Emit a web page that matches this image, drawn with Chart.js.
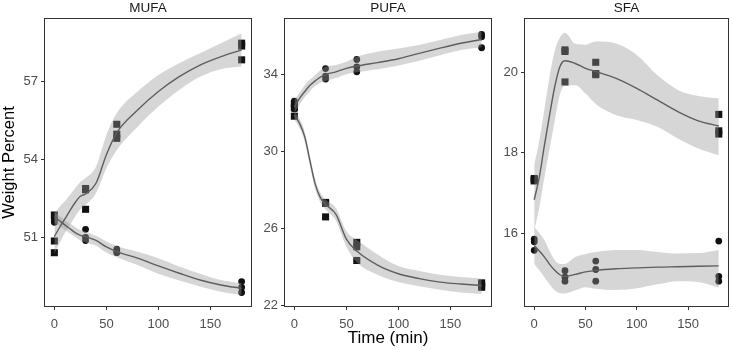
<!DOCTYPE html>
<html>
<head>
<meta charset="utf-8">
<script src="https://cdn.jsdelivr.net/npm/chart.js@4.4.0/dist/chart.umd.min.js"></script>
<style>
  html, body { margin: 0; padding: 0; background: #fff; }
  #wrap { position: relative; width: 733px; height: 350px; overflow: hidden; }
  #wrap canvas { position: absolute; top: 0; }
</style>
</head>
<body>
<div id="wrap">
  <canvas id="mufa" width="256" height="350" style="left:0px"></canvas>
  <canvas id="pufa" width="256" height="350" style="left:240px"></canvas>
  <canvas id="sfa" width="253" height="350" style="left:480px"></canvas>
</div>
<script>
// sampling times of the replicates, and x positions of the smoother
const sampleTimes = [0, 0, 0, 30, 30, 30, 60, 60, 60, 180, 180, 180];
const fitTimes = [0, 5, 10, 15, 20, 25, 30, 40, 50, 60, 80, 100, 120, 140, 160, 180];
const xTicks = [0, 50, 100, 150];

// MUFA
const mufaSquares = [51.88, 50.88, 50.43, 52.9, 52.85, 52.1, 55.37, 54.99, 54.83, 58.49, 58.38, 57.85];
const mufaCircles = [51.75, 51.68, 51.6, 51.33, 51.02, 50.9, 50.57, 50.48, 50.43, 49.32, 49.1, 48.9];
const mufaSquareFit = [51.05, 51.4, 51.72, 52.05, 52.36, 52.6, 52.69, 53.1, 54.2, 55.05, 55.92, 56.63, 57.2, 57.65, 57.97, 58.23];
const mufaSquareUpper = [51.95, 52.2, 52.4, 52.65, 52.91, 53.15, 53.3, 53.74, 54.96, 55.8, 56.63, 57.27, 57.72, 58.1, 58.49, 58.87];
const mufaSquareLower = [50.37, 50.8, 51.18, 51.5, 51.82, 52.1, 52.27, 52.72, 53.68, 54.38, 55.28, 56.05, 56.69, 57.2, 57.49, 57.59];
const mufaCircleFit = [51.82, 51.66, 51.5, 51.35, 51.2, 51.1, 51.05, 50.9, 50.65, 50.47, 50.22, 49.92, 49.64, 49.38, 49.19, 49.06];
const mufaCircleUpper = [52.01, 51.85, 51.69, 51.55, 51.41, 51.3, 51.24, 51.08, 50.86, 50.69, 50.47, 50.22, 49.9, 49.62, 49.38, 49.26];
const mufaCircleLower = [51.57, 51.45, 51.31, 51.17, 51.03, 50.9, 50.82, 50.7, 50.44, 50.26, 49.96, 49.62, 49.36, 49.13, 48.93, 48.81];
const mufaTicks = [51, 54, 57];

// PUFA
const pufaCircles = [32.6, 32.35, 32.2, 34.29, 33.9, 33.75, 34.76, 34.38, 34.12, 36.06, 35.94, 35.37];
const pufaSquares = [32.45, 32.25, 31.82, 27.35, 27.3, 26.6, 25.28, 25.05, 24.34, 23.18, 23.05, 22.95];
const pufaCircleFit = [32.3, 32.75, 33.1, 33.42, 33.65, 33.85, 33.98, 34.12, 34.3, 34.42, 34.6, 34.8, 35.08, 35.35, 35.6, 35.8];
const pufaCircleUpper = [32.65, 33.05, 33.43, 33.72, 33.95, 34.2, 34.38, 34.47, 34.64, 34.9, 35.16, 35.33, 35.51, 35.77, 36.03, 36.2];
const pufaCircleLower = [32.0, 32.42, 32.8, 33.12, 33.38, 33.55, 33.65, 33.8, 34.0, 34.1, 34.25, 34.45, 34.7, 34.98, 35.25, 35.4];
const pufaSquareFit = [31.87, 31.45, 30.75, 29.5, 28.3, 27.6, 27.25, 26.73, 25.45, 24.83, 24.1, 23.65, 23.4, 23.22, 23.12, 23.04];
const pufaSquareUpper = [32.05, 31.7, 31.0, 29.75, 28.55, 27.85, 27.5, 27.05, 25.85, 25.4, 24.65, 24.05, 23.8, 23.6, 23.48, 23.4];
const pufaSquareLower = [31.65, 31.2, 30.5, 29.25, 28.05, 27.35, 26.98, 26.4, 25.05, 24.25, 23.6, 23.22, 23.0, 22.82, 22.68, 22.6];
const pufaTicks = [22, 26, 30, 34];

// SFA
const sfaSquares = [17.36, 17.33, 17.3, 20.57, 20.53, 19.77, 20.26, 19.98, 19.95, 18.96, 18.55, 18.47];
const sfaCircles = [15.85, 15.78, 15.57, 15.06, 14.9, 14.8, 15.3, 15.09, 14.8, 15.8, 14.92, 14.8];
const sfaSquareFit = [16.83, 17.4, 18.2, 18.95, 19.65, 20.15, 20.3, 20.23, 20.11, 20.03, 19.86, 19.61, 19.32, 19.03, 18.8, 18.67];
const sfaSquareUpper = [17.7, 18.3, 19.1, 19.9, 20.55, 20.88, 21.0, 20.72, 20.7, 20.78, 20.73, 20.44, 19.94, 19.57, 19.42, 19.36];
const sfaSquareLower = [16.05, 16.65, 17.4, 18.1, 18.8, 19.45, 19.68, 19.69, 19.48, 19.22, 18.94, 18.82, 18.65, 18.36, 18.11, 17.94];
const sfaCircleFit = [15.69, 15.55, 15.4, 15.22, 15.07, 14.96, 14.92, 14.97, 15.03, 15.07, 15.11, 15.13, 15.15, 15.16, 15.17, 15.18];
const sfaCircleUpper = [16.15, 16.0, 15.82, 15.55, 15.32, 15.23, 15.23, 15.4, 15.48, 15.53, 15.58, 15.58, 15.53, 15.49, 15.5, 15.58];
const sfaCircleLower = [15.23, 15.07, 14.9, 14.72, 14.57, 14.5, 14.49, 14.57, 14.65, 14.61, 14.58, 14.62, 14.72, 14.8, 14.78, 14.64];
const sfaTicks = [16, 18, 20];

Chart.defaults.font.family = '"Liberation Sans", Arial, sans-serif';

const pts = (xs, ys) => xs.map((x, i) => ({x, y: ys[i]}));
const band = 'rgba(153,153,153,0.4)';

const panelBorder = {
    id: 'panelBorder',
    afterDraw(chart) {
        const {ctx, chartArea: a} = chart;
        ctx.save();
        ctx.strokeStyle = '#333333';
        ctx.lineWidth = 1;
        ctx.strokeRect(a.left - 0.5, a.top - 0.5, a.right - a.left + 1, a.bottom - a.top + 1);
        ctx.restore();
    }
};

const group = (values, style, radius, fit, upper, lower) => [
    {data: pts(fitTimes, fit), borderColor: '#5e5e5e', borderWidth: 1.4, pointRadius: 0,
     cubicInterpolationMode: 'monotone', fill: false, order: 1},
    {data: pts(fitTimes, upper), borderColor: 'rgba(0,0,0,0)', borderWidth: 0, pointRadius: 0,
     cubicInterpolationMode: 'monotone', fill: '+1', backgroundColor: band, order: 2},
    {data: pts(fitTimes, lower), borderColor: 'rgba(0,0,0,0)', borderWidth: 0, pointRadius: 0,
     cubicInterpolationMode: 'monotone', fill: false, order: 2},
    {data: pts(sampleTimes, values), showLine: false, pointStyle: style, pointRadius: radius,
     pointBackgroundColor: '#111111', pointBorderWidth: 0, order: 3}
];

const makeChart = (id, title, datasets, yMin, yMax, yTicks, yTitle, xTitle, padRight) => {
    new Chart(document.getElementById(id), {
        type: 'line',
        data: {datasets},
        options: {
            responsive: false,
            animation: false,
            events: [],
            devicePixelRatio: 1,
            layout: {padding: {top: 0, left: 0, bottom: 0, right: padRight}},
            plugins: {
                legend: {display: false},
                tooltip: {enabled: false},
                title: {
                    display: true, text: title, fullSize: false,
                    color: '#1a1a1a', font: {size: 13.5, weight: 'normal'},
                    padding: {top: 0, bottom: 2.8}
                }
            },
            scales: {
                x: {
                    type: 'linear', min: -9, max: 189,
                    afterBuildTicks: s => { s.ticks = xTicks.map(v => ({value: v})); },
                    afterFit: s => { s.height = 44; },
                    grid: {drawOnChartArea: false, drawTicks: true, tickLength: 4, color: '#333333'},
                    border: {display: false},
                    ticks: {color: '#4d4d4d', font: {size: 13}, padding: 7, maxRotation: 0},
                    title: {display: xTitle, text: 'Time (min)', color: '#000', font: {size: 17},
                            padding: {top: 0, bottom: 1}}
                },
                y: {
                    type: 'linear', min: yMin, max: yMax,
                    afterBuildTicks: s => { s.ticks = yTicks.map(v => ({value: v})); },
                    afterFit: s => { s.width = 45; },
                    grid: {drawOnChartArea: false, drawTicks: true, tickLength: 4, color: '#333333'},
                    border: {display: false},
                    ticks: {color: '#4d4d4d', font: {size: 13}, padding: 3},
                    title: {display: yTitle, text: 'Weight Percent', color: '#000', font: {size: 16.5},
                            padding: {top: 0, bottom: 0}}
                }
            }
        },
        plugins: [panelBorder]
    });
};

makeChart('mufa', 'MUFA', [
    ...group(mufaSquares, 'rect', 5, mufaSquareFit, mufaSquareUpper, mufaSquareLower),
    ...group(mufaCircles, 'circle', 3.4, mufaCircleFit, mufaCircleUpper, mufaCircleLower)
], 48.38, 59.42, mufaTicks, true, false, 3);

makeChart('pufa', 'PUFA', [
    ...group(pufaCircles, 'circle', 3.4, pufaCircleFit, pufaCircleUpper, pufaCircleLower),
    ...group(pufaSquares, 'rect', 5, pufaSquareFit, pufaSquareUpper, pufaSquareLower)
], 21.98, 36.86, pufaTicks, false, true, 3);

makeChart('sfa', 'SFA', [
    ...group(sfaSquares, 'rect', 5, sfaSquareFit, sfaSquareUpper, sfaSquareLower),
    ...group(sfaCircles, 'circle', 3.4, sfaCircleFit, sfaCircleUpper, sfaCircleLower)
], 14.18, 21.34, sfaTicks, false, false, 2);
</script>
</body>
</html>
